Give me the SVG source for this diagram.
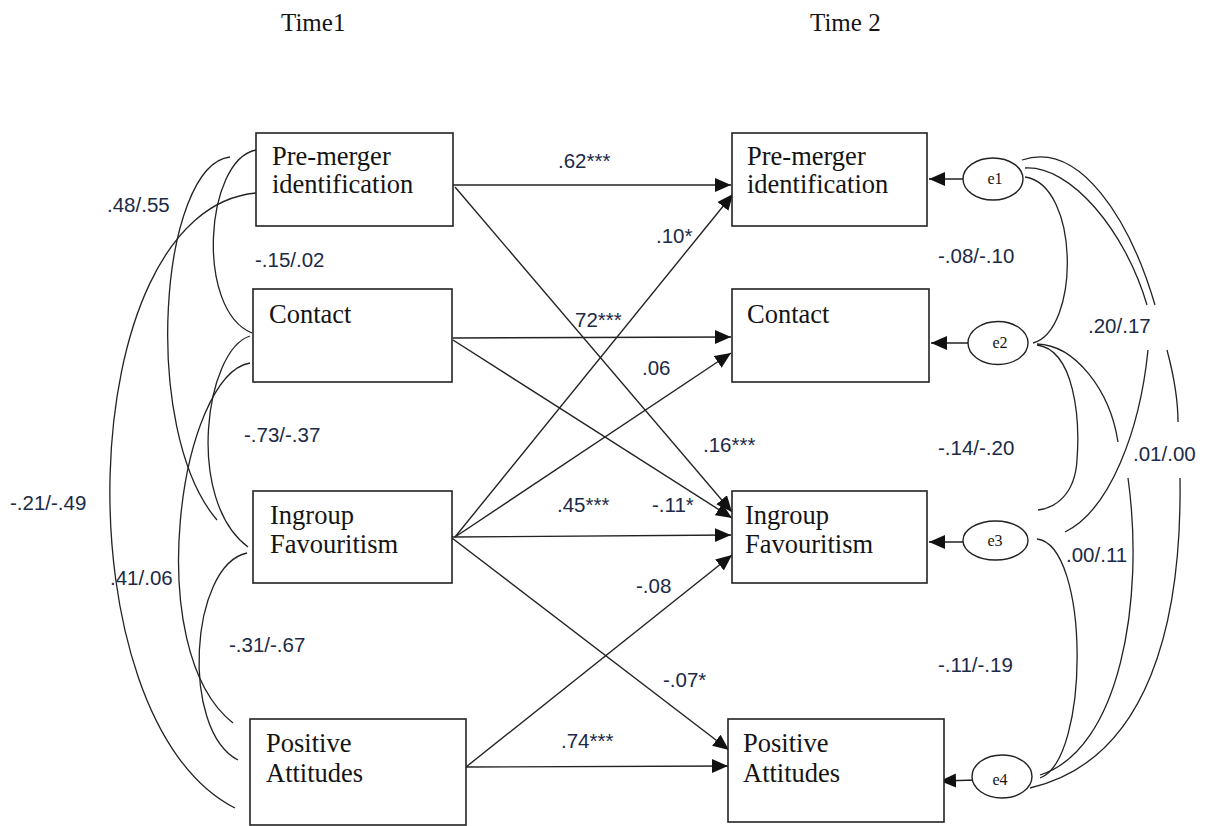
<svg xmlns="http://www.w3.org/2000/svg" width="1210" height="826" viewBox="0 0 1210 826">
<style>
.box{fill:#fff;stroke:#222;stroke-width:1.6}
.ell{fill:#fff;stroke:#222;stroke-width:1.4}
.lbl{font-family:"Liberation Serif","Times New Roman",serif;font-size:26.5px;fill:#141414}
.hdr{font-family:"Liberation Serif","Times New Roman",serif;font-size:25px;fill:#141414}
.et{font-family:"Liberation Serif","Times New Roman",serif;font-size:16px;fill:#141414;text-anchor:middle}
.num{font-family:"Liberation Sans",Arial,sans-serif;font-size:20.5px;fill:#1c2a48}
.arr{fill:none;stroke:#222;stroke-width:1.4;marker-end:url(#ah)}
.cov{fill:none;stroke:#222;stroke-width:1.3}
</style>
<defs>
<marker id="ah" markerUnits="userSpaceOnUse" markerWidth="17" markerHeight="15" refX="16" refY="7" orient="auto">
<path d="M0,0 L16,7 L0,14 z" fill="#111"/>
</marker>
</defs>
<rect width="1210" height="826" fill="#fff"/>
<text class="hdr" x="281" y="31">Time1</text>
<text class="hdr" x="810" y="31">Time 2</text>

<g id="connectors">
<path class="arr" d="M453,185 L731,185"/>
<path class="arr" d="M455,187 L732,512"/>
<path class="arr" d="M453,338 L731,337"/>
<path class="arr" d="M453,340 L732,518"/>
<path class="arr" d="M455,537 L733,194"/>
<path class="arr" d="M455,537 L731,353"/>
<path class="arr" d="M452,537 L731,535"/>
<path class="arr" d="M452,538 L729,750"/>
<path class="arr" d="M466,767 L732,555"/>
<path class="arr" d="M466,767 L728,766"/>
<path class="arr" d="M970,179 L929,179"/>
<path class="arr" d="M972,343 L931,343"/>
<path class="arr" d="M973,542 L929,542"/>
<path class="arr" d="M977,780 L940,781"/>
<path class="cov" d="M256,150 C205,160 195,310 252,333"/>
<path class="cov" d="M230,157 C160,165 140,430 217,520"/>
<path class="cov" d="M256,193 C70,210 60,720 235,808"/>
<path class="cov" d="M250,336 C205,350 185,500 248,547"/>
<path class="cov" d="M250,363 C180,375 140,650 233,723"/>
<path class="cov" d="M247,553 C190,565 180,730 238,760"/>
<path class="cov" d="M1025,177 C1080,185 1080,330 1033,343"/>
<path class="cov" d="M1022,160 C1080,140 1130,220 1155,305"/>
<path class="cov" d="M1167,350 C1175,380 1178,400 1178,422"/>
<path class="cov" d="M1180,478 C1182,620 1150,760 1030,788"/>
<path class="cov" d="M1025,168 C1070,165 1125,230 1147,305"/>
<path class="cov" d="M1148,350 C1140,430 1110,510 1065,532"/>
<path class="cov" d="M1037,344 C1075,345 1110,390 1118,442"/>
<path class="cov" d="M1128,478 C1145,600 1120,750 1040,775"/>
<path class="cov" d="M1037,345 C1075,350 1080,420 1077,460 C1075,495 1055,508 1038,510"/>
<path class="cov" d="M1037,539 C1090,545 1090,760 1040,778"/>
</g>

<g id="pre1"><rect class="box" x="256" y="133" width="197" height="93"/><text class="lbl" x="272" y="165">Pre-merger</text><text class="lbl" x="272" y="193">identification</text></g>
<g id="contact1"><rect class="box" x="253" y="289" width="199" height="93"/><text class="lbl" x="269" y="323">Contact</text></g>
<g id="ingroup1"><rect class="box" x="253" y="491" width="199" height="92"/><text class="lbl" x="270" y="524">Ingroup</text><text class="lbl" x="270" y="553">Favouritism</text></g>
<g id="positive1"><rect class="box" x="250" y="719" width="216" height="106"/><text class="lbl" x="266" y="752">Positive</text><text class="lbl" x="266" y="782">Attitudes</text></g>

<g id="pre2"><rect class="box" x="732" y="133" width="195" height="93"/><text class="lbl" x="747" y="165">Pre-merger</text><text class="lbl" x="747" y="193">identification</text></g>
<g id="contact2"><rect class="box" x="732" y="289" width="197" height="93"/><text class="lbl" x="747" y="323">Contact</text></g>
<g id="ingroup2"><rect class="box" x="732" y="491" width="195" height="92"/><text class="lbl" x="745" y="524">Ingroup</text><text class="lbl" x="745" y="553">Favouritism</text></g>
<g id="positive2"><rect class="box" x="728" y="719" width="216" height="103"/><text class="lbl" x="743" y="752">Positive</text><text class="lbl" x="743" y="782">Attitudes</text></g>

<g id="e1"><ellipse class="ell" cx="993" cy="179" rx="30" ry="21"/><text class="et" x="995" y="184">e1</text></g>
<g id="e2"><ellipse class="ell" cx="998" cy="343" rx="30" ry="21.5"/><text class="et" x="1000" y="348">e2</text></g>
<g id="e3"><ellipse class="ell" cx="995.5" cy="540.5" rx="32.5" ry="19.5"/><text class="et" x="995" y="546">e3</text></g>
<g id="e4"><ellipse class="ell" cx="1002" cy="776.5" rx="30" ry="21.5"/><text class="et" x="1000" y="785">e4</text></g>

<g id="labels">
<text class="num" x="558" y="168">.62***</text>
<text class="num" x="656" y="243">.10*</text>
<text class="num" x="575" y="327">72***</text>
<text class="num" x="642" y="375">.06</text>
<text class="num" x="703" y="452">.16***</text>
<text class="num" x="557" y="512">.45***</text>
<text class="num" x="652" y="512">-.11*</text>
<text class="num" x="636" y="593">-.08</text>
<text class="num" x="663" y="687">-.07*</text>
<text class="num" x="561" y="748">.74***</text>
<text class="num" x="107" y="212">.48/.55</text>
<text class="num" x="255" y="267">-.15/.02</text>
<text class="num" x="244" y="442">-.73/-.37</text>
<text class="num" x="10" y="510">-.21/-.49</text>
<text class="num" x="110" y="585">.41/.06</text>
<text class="num" x="229" y="652">-.31/-.67</text>
<text class="num" x="938" y="263">-.08/-.10</text>
<text class="num" x="1088" y="333">.20/.17</text>
<text class="num" x="938" y="455">-.14/-.20</text>
<text class="num" x="1133" y="461">.01/.00</text>
<text class="num" x="1066" y="562">.00/.11</text>
<text class="num" x="938" y="672">-.11/-.19</text>
</g>
</svg>
